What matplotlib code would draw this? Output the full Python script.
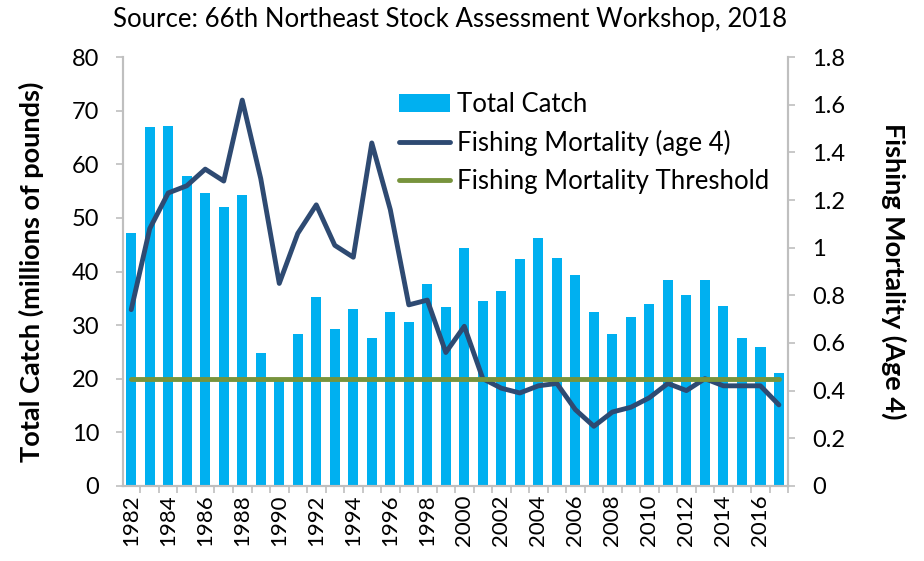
import numpy as np
import matplotlib
matplotlib.use("Agg")
from matplotlib import pyplot as plt
from matplotlib.ticker import MultipleLocator, FixedLocator, FuncFormatter

plt.rcParams['font.family'] = ['Lato', 'DejaVu Sans']

# data
years = list(range(1982, 2018))
total_catch = [47.2, 67.0, 67.1, 57.9, 54.7, 52.0, 54.2, 24.7, 19.5, 28.4,
               35.2, 29.3, 33.0, 27.5, 32.5, 30.6, 37.7, 33.3, 44.4, 34.5,
               36.3, 42.3, 46.2, 42.5, 39.3, 32.4, 28.4, 31.5, 33.9, 38.5,
               35.7, 38.5, 33.6, 27.5, 26.0, 21.1]
fishing_mortality = [0.74, 1.08, 1.23, 1.26, 1.33, 1.28, 1.62, 1.29, 0.85, 1.06,
                     1.18, 1.01, 0.96, 1.44, 1.16, 0.76, 0.78, 0.56, 0.67, 0.45,
                     0.41, 0.39, 0.42, 0.43, 0.32, 0.25, 0.31, 0.33, 0.37, 0.43,
                     0.40, 0.45, 0.42, 0.42, 0.42, 0.34]
threshold = [0.45] * len(years)

x = np.arange(len(years))
grey = '#BFBFBF'

fig = plt.figure(figsize=(9.24, 5.61), dpi=100)
ax = fig.add_axes([0.133, 0.134, 0.72, 0.764])
ax2 = ax.twinx()

bars = ax.bar(x, total_catch, width=0.55, color='#00B0F0', label='Total Catch', zorder=2)
ln1, = ax2.plot(x, fishing_mortality, color='#2E4A72', lw=3.5, label='Fishing Mortality (age 4)',
                solid_capstyle='round', solid_joinstyle='round')
ln2, = ax2.plot(x, threshold, color='#77933C', lw=3.5, label='Fishing Mortality Threshold',
                solid_capstyle='round')

ax.set_xlim(-0.45, len(years) - 0.5)
ax.set_ylim(0, 80)
ax2.set_ylim(0, 1.8)
ax.yaxis.set_major_locator(MultipleLocator(10))
ax2.yaxis.set_major_locator(MultipleLocator(0.2))
ax2.yaxis.set_major_formatter(FuncFormatter(lambda v, p: '%g' % round(v, 1)))

# year labels every 2 years, tick marks between bars
ax.set_xticks(x[::2])
ax.set_xticklabels([str(y) for y in years[::2]], rotation=90)
ax.xaxis.set_minor_locator(FixedLocator(np.arange(-0.5, len(years), 1)))
ax.tick_params(axis='x', which='major', length=0, labelsize=16, pad=6)
ax.tick_params(axis='x', which='minor', length=5, color=grey, width=1.2)
ax.tick_params(axis='y', length=5, color=grey, width=1.2, labelsize=17, pad=12)
ax2.tick_params(axis='y', length=5, color=grey, width=1.2, labelsize=17, pad=12)

for a in (ax, ax2):
    a.spines['top'].set_visible(False)
    for s in ('left', 'right', 'bottom'):
        a.spines[s].set_color(grey)
        a.spines[s].set_linewidth(1.5)

ax.set_ylabel('Total Catch (millions of pounds)', fontsize=19.5, fontweight='bold', labelpad=20)
ax2.set_ylabel('Fishing Mortality (Age 4)', fontsize=19.5, fontweight='bold', rotation=-90,
               labelpad=44)

fig.text(0.487, 0.965, 'Source: 66th Northeast Stock Assessment Workshop, 2018',
         ha='center', va='center', fontsize=18.5)

ax2.legend([bars, ln1, ln2], [bars.get_label(), ln1.get_label(), ln2.get_label()],
           loc='upper left', bbox_to_anchor=(0.415, 0.918), frameon=False, fontsize=18.5,
           handlelength=2.0, handletextpad=0.25, labelspacing=0.5, borderaxespad=0,
           borderpad=0)

fig.savefig('out.png', dpi=100)
